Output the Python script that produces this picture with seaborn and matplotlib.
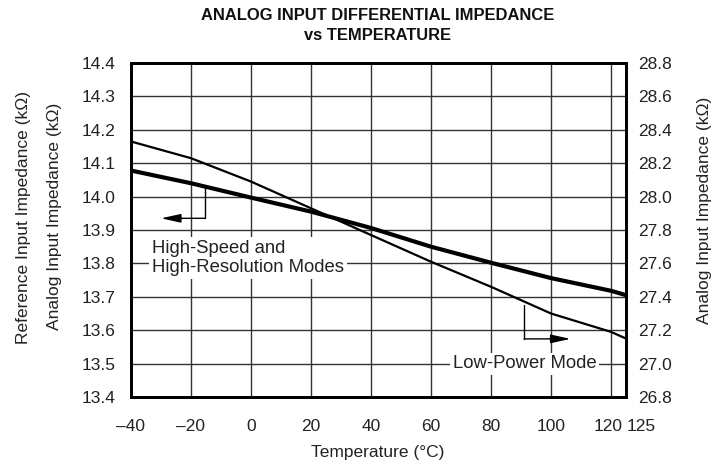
import matplotlib
matplotlib.use("Agg")
import matplotlib.pyplot as plt
import matplotlib.transforms as mtrans
import seaborn as sns
import pandas as pd

temps = [-40, -20, 0, 20, 40, 60, 80, 100, 120, 125]
hs_impedance = [14.078, 14.040, 13.997, 13.955, 13.906, 13.850, 13.802, 13.756, 13.718, 13.705]
lp_temps = [-40, -20, 0, 20, 40, 60, 80, 100, 120, 125]
lp_impedance = [28.33, 28.23, 28.09, 27.93, 27.77, 27.61, 27.46, 27.30, 27.19, 27.15]

x_ticks = [-40, -20, 0, 20, 40, 60, 80, 100, 120, 125]
x_labels = ["–40", "–20", "0", "20", "40", "60", "80", "100", "120", "125"]
left_ticks = [13.4, 13.5, 13.6, 13.7, 13.8, 13.9, 14.0, 14.1, 14.2, 14.3, 14.4]
right_ticks = [26.8, 27.0, 27.2, 27.4, 27.6, 27.8, 28.0, 28.2, 28.4, 28.6, 28.8]

sns.set_theme(style="white")
plt.rcParams["font.family"] = ["Liberation Sans", "DejaVu Sans"]

W, H = 716, 466
fig = plt.figure(figsize=(W / 100, H / 100), dpi=100)
ax = fig.add_axes([131 / W, 1 - 397 / H, 495 / W, 334 / H])
ax2 = ax.twinx()

df_hs = pd.DataFrame({"T": temps, "Z": hs_impedance})
df_lp = pd.DataFrame({"T": lp_temps, "Z": lp_impedance})

sns.lineplot(data=df_hs, x="T", y="Z", ax=ax, color="black", linewidth=3.0, zorder=5)
sns.lineplot(data=df_lp, x="T", y="Z", ax=ax2, color="black", linewidth=1.6, zorder=5)

ax.set_xlim(-40, 125)
ax.set_ylim(13.4, 14.4)
ax2.set_ylim(26.8, 28.8)
ax.set_xticks(x_ticks)
ax.set_xticklabels(x_labels)
ax.set_yticks(left_ticks)
ax.set_yticklabels([f"{v:.1f}" for v in left_ticks])
ax2.set_yticks(right_ticks)
ax2.set_yticklabels([f"{v:.1f}" for v in right_ticks])

FS = 12.5
TXT = "#222222"
ax.grid(True, color="#333333", linewidth=1.0)
ax.set_axisbelow(True)
ax.tick_params(axis="x", length=0, labelsize=FS, colors=TXT, pad=16)
ax.tick_params(axis="y", length=0, labelsize=FS, colors=TXT, pad=11)
ax2.tick_params(axis="y", length=0, labelsize=FS, colors=TXT, pad=9)
for a in (ax, ax2):
    for s in a.spines.values():
        s.set_linewidth(2.0)
        s.set_color("black")

# nudge the crowded 120 / 125 labels apart
xl = ax.get_xticklabels()
xl[-2].set_transform(xl[-2].get_transform() + mtrans.ScaledTranslation(-3 / 100, 0, fig.dpi_scale_trans))
xl[-1].set_horizontalalignment("left")
xl[-1].set_transform(xl[-1].get_transform() + mtrans.ScaledTranslation(1 / 100, 0, fig.dpi_scale_trans))

ax.set_xlabel("")
ax.set_ylabel("")
ax2.set_ylabel("")
fig.text(378 / W, 1 - 453 / H, "Temperature (°C)", ha="center", va="center", fontsize=FS, color=TXT)

fig.text(24 / W, 1 - 218 / H, "Reference Input Impedance (kΩ)", rotation=90, ha="center", va="center", fontsize=FS, color=TXT)
fig.text(55 / W, 1 - 216 / H, "Analog Input Impedance (kΩ)", rotation=90, ha="center", va="center", fontsize=FS, color=TXT)
fig.text(704 / W, 1 - 210 / H, "Analog Input Impedance (kΩ)", rotation=90, ha="center", va="center", fontsize=FS, color=TXT)

fig.text(378 / W, 1 - 16 / H, "ANALOG INPUT DIFFERENTIAL IMPEDANCE", ha="center", va="center", fontsize=11.9, fontweight="bold", color="#111111")
fig.text(378 / W, 1 - 35 / H, "vs TEMPERATURE", ha="center", va="center", fontsize=11.9, fontweight="bold", color="#111111")

# annotations (left axis units)
arrow = dict(arrowstyle="-|>,head_length=1.0,head_width=0.22", color="black", lw=1.0, shrinkA=0, shrinkB=0)
ax.plot([-15.3, -15.3], [14.03, 13.935], color="black", linewidth=1.0, zorder=6)
ax.annotate("", xy=(-30, 13.935), xytext=(-15.3, 13.935), arrowprops=arrow, zorder=6)
ax.text(-33, 13.816, "High-Speed and\nHigh-Resolution Modes", ha="left", va="center", fontsize=13.3,
        color=TXT, linespacing=1.15, zorder=7,
        bbox=dict(facecolor="white", edgecolor="none", pad=2))

ax.plot([91, 91], [13.675, 13.574], color="black", linewidth=1.0, zorder=6)
ax.annotate("", xy=(106.5, 13.574), xytext=(91, 13.574), arrowprops=arrow, zorder=6)
ax.text(91.3, 13.499, "Low-Power Mode", ha="center", va="center", fontsize=13.3,
        color=TXT, zorder=7, bbox=dict(facecolor="white", edgecolor="none", pad=2))

fig.savefig("out.png", dpi=100)
